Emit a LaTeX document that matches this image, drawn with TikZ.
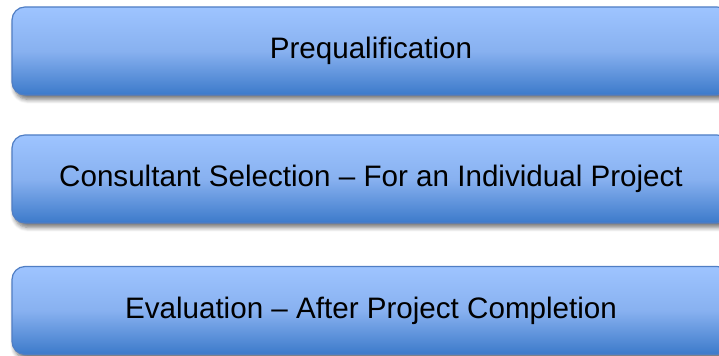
\documentclass[tikz,border=0pt]{standalone}
\usepackage{fontspec}
\setmainfont{Liberation Sans}
\usepackage{tikz}
\usetikzlibrary{shadows,shadows.blur}

\definecolor{boxtop}{RGB}{158,196,255}
\definecolor{boxmid}{RGB}{136,177,240}
\definecolor{boxbot}{RGB}{60,122,202}
\definecolor{boxline}{RGB}{80,126,196}

\begin{document}
\begin{tikzpicture}[x=1pt, y=1pt,
    stagebox/.style={draw=boxline, line width=0.6pt, rounded corners=6.5pt,
      top color=boxtop, bottom color=boxbot, middle color=boxmid,
      minimum width=359pt, minimum height=44pt, inner sep=0pt,
      blur shadow={shadow xshift=1.2pt, shadow yshift=-2.2pt, shadow blur steps=6, shadow opacity=55},
      font=\fontsize{14.8}{17}\selectfont}]
      \useasboundingbox (0,0) rectangle (359.5,178);
      \node[stagebox] (prequal) at (185.5,152.5) {Prequalification};
      \node[stagebox] (selection) at (185.5,88.5) {Consultant Selection -- For an Individual Project};
      \node[stagebox] (evaluation) at (185.5,22.75) {Evaluation -- After Project Completion};
    \end{tikzpicture}
\end{document}
